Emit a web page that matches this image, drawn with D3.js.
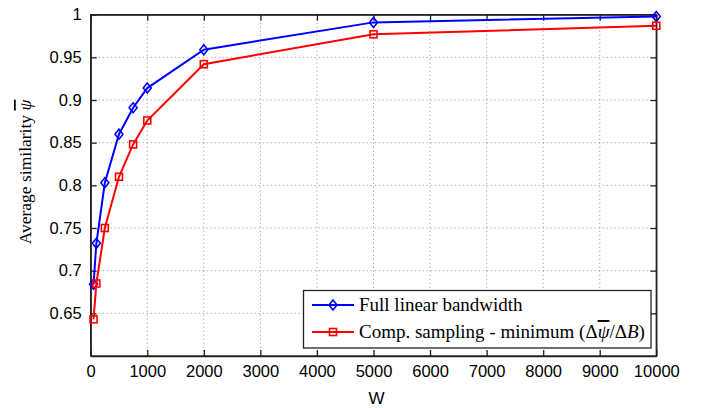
<title>Similarity vs W</title>
<body style="margin:0;background:#fff"></body>
<style>
  text { fill:#000; }
  .tick text { font-family:"Liberation Sans", Arial, sans-serif; font-size:16.5px; }
  .grid line { stroke:#8c8c8c; stroke-dasharray:1,3; stroke-width:1; }
  .serif { font-family:"Liberation Serif", "DejaVu Serif", serif; }
</style>
<script src="https://d3js.org/d3.v7.min.js"></script>
<script>
// data
xs = [50, 100, 250, 500, 750, 1000, 2000, 5000, 10000]
full = [0.684, 0.732, 0.803, 0.860, 0.891, 0.914, 0.959, 0.991, 0.998]
comp = [0.643, 0.685, 0.750, 0.810, 0.848, 0.876, 0.942, 0.977, 0.987]
xticks = [0, 1000, 2000, 3000, 4000, 5000, 6000, 7000, 8000, 9000, 10000]
yticks = [0.65, 0.7, 0.75, 0.8, 0.85, 0.9, 0.95, 1]

W = 703, H = 408
L = 90.7, R = 656.3, T = 14.7, B = 356

svg = d3.select('body').append('svg')
    .attr('width', W)
    .attr('height', H)

x = d3.scaleLinear().domain([0, 10000]).range([L, R])
y = d3.scaleLinear().domain([0.6, 1]).range([B, T])

// grid
g = svg.append('g').attr('class', 'grid')
g.selectAll('.gx').data(xticks.slice(1, -1)).enter().append('line')
    .attr('x1', d => x(d)).attr('x2', d => x(d)).attr('y1', T).attr('y2', B)
g.selectAll('.gy').data(yticks.slice(0, -1)).enter().append('line')
    .attr('x1', L).attr('x2', R).attr('y1', d => y(d)).attr('y2', d => y(d))

// axes, ticks pointing inward like matlab
xaxis = d3.axisBottom(x).tickValues(xticks).tickFormat(d3.format('d')).tickSizeInner(-6).tickSizeOuter(0).tickPadding(9)
yaxis = d3.axisLeft(y).tickValues(yticks).tickFormat(d => String(d)).tickSizeInner(-6).tickSizeOuter(0).tickPadding(9)
svg.append('g').attr('transform', `translate(0,${B})`).call(xaxis)
svg.append('g').attr('transform', `translate(${L},0)`).call(yaxis)
svg.append('g').attr('transform', `translate(0,${T})`)
    .call(d3.axisTop(x).tickValues(xticks).tickSizeInner(-6).tickSizeOuter(0).tickFormat(''))
svg.append('g').attr('transform', `translate(${R},0)`)
    .call(d3.axisRight(y).tickValues(yticks).tickSizeInner(-6).tickSizeOuter(0).tickFormat(''))
svg.selectAll('.domain, .tick line').attr('stroke', '#222').attr('stroke-width', 1.3)
svg.append('rect').attr('x', L).attr('y', T).attr('width', R - L).attr('height', B - T)
    .attr('fill', 'none').attr('stroke', '#222').attr('stroke-width', 1.3)

// series
line = d3.line().x((d, i) => x(xs[i])).y(d => y(d))
series = [
    {vals: full, color: '#0000ff', mark: 'diamond'},
    {vals: comp, color: '#ff0000', mark: 'square'}
]

function marker(sel, kind, color) {
    if (kind == 'diamond')
        sel.append('path').attr('d', 'M0,-5L4,0L0,5L-4,0Z')
    else
        sel.append('rect').attr('x', -3.5).attr('y', -3.5).attr('width', 7).attr('height', 7)
    sel.selectAll('path,rect').attr('fill', 'none').attr('stroke', color).attr('stroke-width', 1.6)
}

series.forEach(s => {
    svg.append('path').attr('d', line(s.vals))
        .attr('fill', 'none').attr('stroke', s.color).attr('stroke-width', 2)
    s.vals.forEach((v, i) => {
        marker(svg.append('g').attr('transform', `translate(${x(xs[i])},${y(v)})`), s.mark, s.color)
    })
})

// psi with a bar on top
function psibar(t) {
    t.append('tspan').style('font-style', 'italic').style('text-decoration', 'overline').text('ψ')
}

// legend
leg = svg.append('g')
leg.append('rect').attr('x', 303.5).attr('y', 290.5).attr('width', 347.5).attr('height', 57.5)
    .attr('fill', '#fff').attr('stroke', '#222').attr('stroke-width', 1.3)
labels = ['Full linear bandwidth', 'Comp. sampling - minimum ']
series.forEach((s, i) => {
    cy = 305 + i * 27
    leg.append('line').attr('x1', 312).attr('x2', 354).attr('y1', cy).attr('y2', cy)
        .attr('stroke', s.color).attr('stroke-width', 2)
    marker(leg.append('g').attr('transform', `translate(333,${cy})`), s.mark, s.color)
    t = leg.append('text').attr('class', 'serif').attr('x', 359).attr('y', cy + 6)
        .style('font-size', '19px').text(labels[i])
    if (i == 1) {
        t.append('tspan').text('(Δ')
        psibar(t)
        t.append('tspan').text('/Δ')
        t.append('tspan').style('font-style', 'italic').text('B')
        t.append('tspan').text(')')
    }
})

// axis titles
svg.append('text').attr('x', (L + R) / 2 + 3).attr('y', 404).attr('text-anchor', 'middle')
    .style('font-family', '"Liberation Sans", Arial, sans-serif').style('font-size', '17px').text('W')
yl = svg.append('text').attr('class', 'serif').attr('transform', 'translate(31,172) rotate(-90)')
    .attr('text-anchor', 'middle').style('font-size', '17.5px').text('Average similarity ')
psibar(yl)
</script>
